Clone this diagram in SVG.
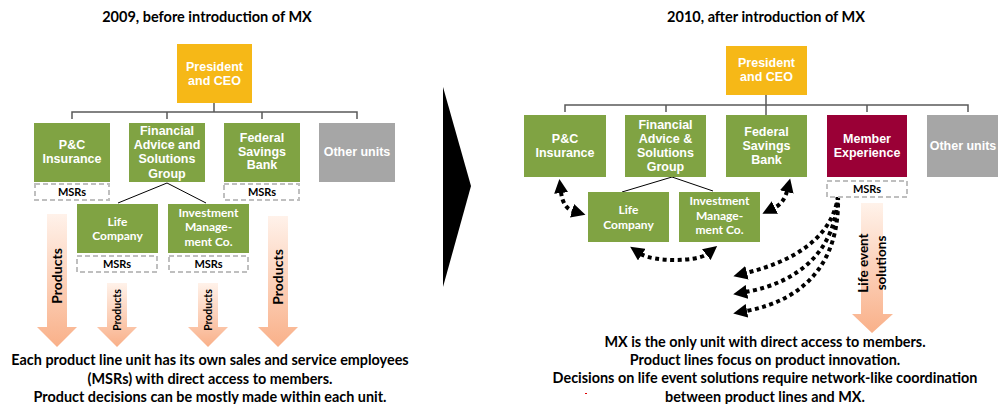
<svg xmlns="http://www.w3.org/2000/svg" width="998" height="404" viewBox="0 0 998 404">
<style>
  .title{font-family:Lato,"Open Sans","Liberation Sans",sans-serif;font-weight:bold;font-size:14.5px;fill:#000;text-anchor:middle}
  .note{font-family:Lato,"Open Sans","Liberation Sans",sans-serif;font-weight:bold;font-size:14.4px;fill:#000;text-anchor:middle}
  .box{stroke:none}
  .green{fill:#80A343}
  .yellow{fill:#F6B817}
  .gray{fill:#A6A6A6}
  .red{fill:#9A0036}
  .lbl{font-family:"Liberation Sans",Arial,sans-serif;font-weight:bold;font-size:12.5px;fill:#fff;text-anchor:middle}
  .lbl2{font-family:Lato,"Open Sans",sans-serif;font-weight:bold;font-size:12px;fill:#fff;text-anchor:middle}
  .msr{fill:#fff;stroke:#BFBFBF;stroke-width:2;stroke-dasharray:5 3}
  .msrt{font-family:Lato,"Open Sans",sans-serif;font-weight:bold;font-size:11px;fill:#000;text-anchor:middle}
  .conn{fill:none;stroke:#595959;stroke-width:1.5}
  .sub{fill:none;stroke:#000;stroke-width:1}
  .dot{fill:none;stroke:#000;stroke-width:4;stroke-dasharray:4 3.5}
  .parrow{fill:url(#pg);stroke:none}
  .ptxt{font-family:Lato,"Open Sans",sans-serif;font-weight:bold;fill:#000;text-anchor:middle}
</style>
<defs>
  <linearGradient id="pg" x1="0" y1="0" x2="0" y2="1">
    <stop offset="0" stop-color="#FFF2EA"/>
    <stop offset="1" stop-color="#F9B089"/>
  </linearGradient>
  <marker id="ah" markerUnits="userSpaceOnUse" markerWidth="14" markerHeight="14" refX="1" refY="7" orient="auto-start-reverse" viewBox="0 0 14 14">
    <path d="M0,0 L14,7 L0,14 z" fill="#000"/>
  </marker>
</defs>
<rect width="998" height="404" fill="#fff"/>

<!-- Titles -->
<text class="title" x="207" y="22">2009, before introduction of MX</text>
<text class="title" x="766" y="22">2010, after introduction of MX</text>

<!-- Divider triangle -->
<polygon points="443,87 471,186 443,287" fill="#000"/>

<!-- ================= LEFT (2009) ================= -->
<g id="connectors-2009">
  <path class="conn" d="M214,103 V112 M72,119 V112 H357 V119 M167,112 V119 M262,112 V119"/>
  <path class="sub" d="M118,203 L167,183 L206,203"/>
</g>

<g id="ceo-2009">
  <rect class="box yellow" x="177" y="44" width="75" height="59"/>
  <text class="lbl" x="214.5" y="71">President</text>
  <text class="lbl" x="214.5" y="85">and CEO</text>
</g>
<g id="pc-2009">
  <rect class="box green" x="34" y="123" width="76" height="59"/>
  <text class="lbl" x="72" y="149">P&amp;C</text>
  <text class="lbl" x="72" y="163">Insurance</text>
</g>
<g id="fasg-2009">
  <rect class="box green" x="129" y="123" width="76" height="59"/>
  <text class="lbl" x="167" y="135">Financial</text>
  <text class="lbl" x="167" y="149">Advice and</text>
  <text class="lbl" x="167" y="163">Solutions</text>
  <text class="lbl" x="167" y="178">Group</text>
</g>
<g id="fsb-2009">
  <rect class="box green" x="224" y="123" width="76" height="59"/>
  <text class="lbl" x="262" y="142">Federal</text>
  <text class="lbl" x="262" y="156">Savings</text>
  <text class="lbl" x="262" y="169">Bank</text>
</g>
<g id="other-2009">
  <rect class="box gray" x="319" y="123" width="76" height="59"/>
  <text class="lbl" x="357" y="156">Other units</text>
</g>
<g id="msr-pc-2009">
  <rect class="msr" x="35" y="184" width="74" height="16"/>
  <text class="msrt" x="72" y="196">MSRs</text>
</g>
<g id="msr-fsb-2009">
  <rect class="msr" x="224" y="184" width="75" height="16"/>
  <text class="msrt" x="262" y="196">MSRs</text>
</g>
<g id="life-2009">
  <rect class="box green" x="77" y="204" width="81" height="49"/>
  <text class="lbl2" x="117.5" y="225.5">Life</text>
  <text class="lbl2" x="117.5" y="240">Company</text>
</g>
<g id="inv-2009">
  <rect class="box green" x="168" y="204" width="81" height="49"/>
  <text class="lbl2" x="208.5" y="216.5">Investment</text>
  <text class="lbl2" x="208.5" y="231">Manage-</text>
  <text class="lbl2" x="208.5" y="245.5">ment Co.</text>
</g>
<g id="msr-life-2009">
  <rect class="msr" x="77" y="256" width="80" height="16"/>
  <text class="msrt" x="117" y="268">MSRs</text>
</g>
<g id="msr-inv-2009">
  <rect class="msr" x="169" y="256" width="79" height="16"/>
  <text class="msrt" x="208.5" y="268">MSRs</text>
</g>

<!-- Products arrows -->
<g id="products-pc">
  <polygon class="parrow" points="47,214 67,214 67,327 77,327 57,347 37,327 47,327"/>
  <text class="ptxt" font-size="14" transform="translate(57,276) rotate(-90)" y="5">Products</text>
</g>
<g id="products-life">
  <polygon class="parrow" points="107,283 127,283 127,327 137,327 117,347 97,327 107,327"/>
  <text class="ptxt" font-size="10.5" transform="translate(117,310) rotate(-90)" y="4">Products</text>
</g>
<g id="products-inv">
  <polygon class="parrow" points="198,283 218,283 218,327 228,327 208,347 188,327 198,327"/>
  <text class="ptxt" font-size="10.5" transform="translate(208,310) rotate(-90)" y="4">Products</text>
</g>
<g id="products-fsb">
  <polygon class="parrow" points="268,216 288,216 288,327 298,327 278,347 258,327 268,327"/>
  <text class="ptxt" font-size="14" transform="translate(278,277) rotate(-90)" y="5">Products</text>
</g>

<text class="note" x="210" y="365">Each product line unit has its own sales and service employees</text>
<text class="note" x="210" y="384">(MSRs) with direct access to members.</text>
<text class="note" x="210" y="402">Product decisions can be mostly made within each unit.</text>

<!-- ================= RIGHT (2010) ================= -->
<g id="connectors-2010">
  <path class="conn" d="M766,95 V115 M565,112 V105 H968 V112 M666,105 V112 M867,105 V112"/>
  <path class="sub" d="M622,192 L672,177 L713,191"/>
  <path class="dot" marker-start="url(#ah)" marker-end="url(#ah)" d="M561,192 Q563,208 573,211"/>
  <path class="dot" marker-start="url(#ah)" marker-end="url(#ah)" d="M787,191 Q784,203 774,208"/>
  <path class="dot" marker-start="url(#ah)" marker-end="url(#ah)" d="M641,254 C653,262 697,262 707,254"/>
  <path class="dot" marker-end="url(#ah)" d="M838,196 C832,240 790,262 746,273"/>
  <path class="dot" marker-start="url(#ah)" marker-end="url(#ah)" d="M838,195 C836,250 800,282 746,292"/>
  <path class="dot" marker-end="url(#ah)" d="M838,196 C840,262 805,300 746,311"/>
</g>

<g id="ceo-2010">
  <rect class="box yellow" x="726" y="46" width="81" height="49"/>
  <text class="lbl" x="766.5" y="67">President</text>
  <text class="lbl" x="766.5" y="81">and CEO</text>
</g>
<g id="pc-2010">
  <rect class="box green" x="524" y="115" width="82" height="62"/>
  <text class="lbl" x="565" y="143">P&amp;C</text>
  <text class="lbl" x="565" y="157">Insurance</text>
</g>
<g id="fasg-2010">
  <rect class="box green" x="625" y="115" width="81" height="62"/>
  <text class="lbl" x="665.5" y="129">Financial</text>
  <text class="lbl" x="665.5" y="143">Advice &amp;</text>
  <text class="lbl" x="665.5" y="157">Solutions</text>
  <text class="lbl" x="665.5" y="171">Group</text>
</g>
<g id="fsb-2010">
  <rect class="box green" x="726" y="115" width="81" height="62"/>
  <text class="lbl" x="766.5" y="136">Federal</text>
  <text class="lbl" x="766.5" y="150">Savings</text>
  <text class="lbl" x="766.5" y="164">Bank</text>
</g>
<g id="mx-2010">
  <rect class="box red" x="827" y="115" width="80" height="62"/>
  <text class="lbl" x="867" y="143">Member</text>
  <text class="lbl" x="867" y="157">Experience</text>
</g>
<g id="other-2010">
  <rect class="box gray" x="927" y="115" width="82" height="62"/>
  <text class="lbl" x="963" y="150">Other units</text>
</g>
<g id="msr-mx-2010">
  <rect class="msr" x="827" y="181" width="80" height="16"/>
  <text class="msrt" x="867" y="193">MSRs</text>
</g>
<g id="life-2010">
  <rect class="box green" x="588" y="192" width="81" height="50"/>
  <text class="lbl2" x="628.5" y="214">Life</text>
  <text class="lbl2" x="628.5" y="228.5">Company</text>
</g>
<g id="inv-2010">
  <rect class="box green" x="679" y="192" width="81" height="50"/>
  <text class="lbl2" x="719.5" y="205">Investment</text>
  <text class="lbl2" x="719.5" y="219.5">Manage-</text>
  <text class="lbl2" x="719.5" y="234">ment Co.</text>
</g>

<g id="life-event-arrow">
  <polygon class="parrow" points="861,203 883,203 883,314 893,314 872,333 852,314 861,314"/>
  <text class="ptxt" font-size="13.5" transform="translate(868,263) rotate(-90)">Life event</text>
  <text class="ptxt" font-size="13.5" transform="translate(886,263) rotate(-90)">solutions</text>
</g>

<text class="note" x="765" y="347">MX is the only unit with direct access to members.</text>
<text class="note" x="765" y="365">Product lines focus on product innovation.</text>
<text class="note" x="765" y="383">Decisions on life event solutions require network-like coordination</text>
<text class="note" x="765" y="402">between product lines and MX.</text>
<rect x="585" y="393" width="2" height="1" fill="#E00000"/>
</svg>
